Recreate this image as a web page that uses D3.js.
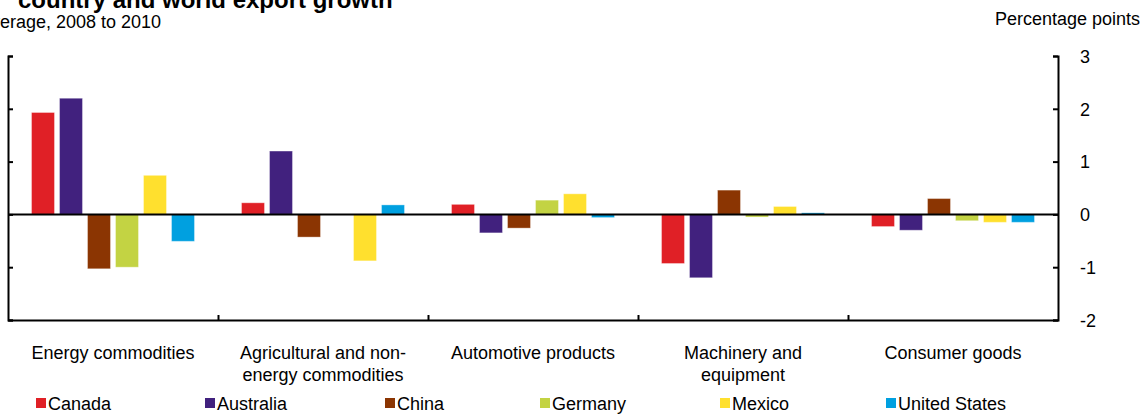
<!DOCTYPE html>
<html><head><meta charset="utf-8">
<script src="https://cdn.jsdelivr.net/npm/d3@7"></script>
<style>
html,body{margin:0;padding:0;background:#fff;overflow:hidden}
svg{display:block;font-family:Arial,"Liberation Sans",sans-serif}
</style></head>
<body><svg id="c" width="1144" height="415"></svg>
<script>
const categories = ["Energy commodities", "Agricultural and non-energy commodities", "Automotive products", "Machinery and equipment", "Consumer goods"];
const categoryLines = [["Energy commodities"], ["Agricultural and non-", "energy commodities"], ["Automotive products"], ["Machinery and", "equipment"], ["Consumer goods"]];
const series = ["Canada", "Australia", "China", "Germany", "Mexico", "United States"];
const canada    = [1.93, 0.22, 0.19, -0.93, -0.23];
const australia = [2.20, 1.20, -0.35, -1.20, -0.30];
const china     = [-1.03, -0.43, -0.26, 0.46, 0.30];
const germany   = [-1.00, 0.00, 0.27, -0.05, -0.12];
const mexico    = [0.74, -0.88, 0.39, 0.15, -0.15];
const us        = [-0.51, 0.18, -0.06, 0.03, -0.15];
const yTicks = [-2, -1, 0, 1, 2, 3];
const colors = ["#E02026", "#41217E", "#8B3502", "#C3D343", "#FFE02E", "#00A0E0"];
const seriesValues = [canada, australia, china, germany, mexico, us];

(function () {
const svg = d3.select("#c");
const mLeft = 8, mRight = 1058, mTop = 56, mBottom = 320;
const FS = 18;
const x = d3.scaleBand().domain(categories).range([mLeft, mRight]).padding(0);
const xi = d3.scaleBand().domain(series).range([0, x.bandwidth()]).paddingInner(0.18).paddingOuter(0.84);
const y = d3.scaleLinear().domain([-2, 3]).range([mBottom, mTop]);

series.forEach((s, si) => {
  svg.append("g").selectAll("rect").data(seriesValues[si]).join("rect")
    .attr("x", (d, i) => x(categories[i]) + xi(s))
    .attr("width", xi.bandwidth())
    .attr("y", d => y(Math.max(0, d)))
    .attr("height", d => Math.abs(y(d) - y(0)))
    .attr("fill", colors[si])
    .attr("stroke", "#fff").attr("stroke-opacity", 0.35).attr("stroke-width", 1);
});

svg.append("line").attr("x1", mLeft).attr("x2", mRight).attr("y1", y(0)).attr("y2", y(0))
  .attr("stroke", "#000").attr("stroke-width", 2);

const la = svg.append("g").attr("transform", `translate(${mLeft},0)`)
  .call(d3.axisLeft(y).tickValues(yTicks).tickSizeInner(-5).tickSizeOuter(-5).tickFormat(""));
const ra = svg.append("g").attr("transform", `translate(${mRight},0)`)
  .call(d3.axisRight(y).tickValues(yTicks).tickSizeInner(-5).tickSizeOuter(-5).tickPadding(22).tickFormat(d => d < 0 ? "-" + Math.abs(d) : String(d)));
const xb = d3.scaleLinear().domain([0, categories.length]).range([mLeft, mRight]);
const ba = svg.append("g").attr("transform", `translate(0,${mBottom})`)
  .call(d3.axisBottom(xb).tickValues(d3.range(1, categories.length)).tickSizeInner(-5).tickSizeOuter(0).tickFormat(""));

[la, ra, ba].forEach(g => {
  g.selectAll("path,line").attr("stroke", "#000").attr("stroke-width", 2);
  g.selectAll("text").attr("font-size", FS).attr("fill", "#000").attr("font-family", "Arial, 'Liberation Sans', sans-serif");
});
ra.selectAll("text").attr("text-anchor", "start").attr("dy", "0.35em");

categoryLines.forEach((lines, i) => {
  const cx = x(categories[i]) + x.bandwidth() / 2;
  const t = svg.append("text").attr("x", cx).attr("y", 359)
    .attr("text-anchor", "middle").attr("font-size", FS).attr("fill", "#000");
  lines.forEach((l, k) => t.append("tspan").attr("x", cx).attr("dy", k ? 22 : 0).text(l));
});

const legendX = [36, 205, 385, 540, 720, 886];
series.forEach((s, i) => {
  svg.append("rect").attr("x", legendX[i]).attr("y", 398).attr("width", 10).attr("height", 10).attr("fill", colors[i]);
  svg.append("text").attr("x", legendX[i] + 12).attr("y", 410).attr("font-size", FS).attr("fill", "#000").text(s);
});

svg.append("text").attr("x", 18).attr("y", 8).attr("font-size", 24).attr("font-weight", "bold").attr("fill", "#000")
  .text("country and world export growth");
const sub = svg.append("text").attr("y", 28).attr("font-size", FS).attr("fill", "#000").text("Av");
const w = sub.node().getComputedTextLength();
sub.attr("x", -w).text("Average, 2008 to 2010");
svg.append("text").attr("x", 1140).attr("y", 25).attr("text-anchor", "end").attr("font-size", FS).attr("fill", "#000")
  .text("Percentage points");
})();
</script></body></html>
